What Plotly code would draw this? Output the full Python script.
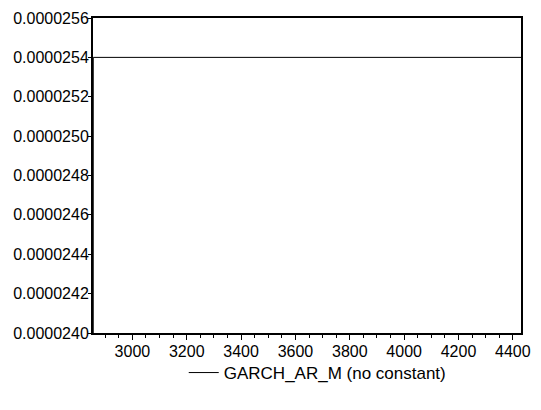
import plotly.graph_objects as go

# data
obs = [2855, 2856, 4430]
garch_ar_m = [0.0, 0.0000254, 0.0000254]
series_name = "GARCH_AR_M (no constant)"
y_ticks = [0.0000240, 0.0000242, 0.0000244, 0.0000246, 0.0000248,
           0.0000250, 0.0000252, 0.0000254, 0.0000256]
x_ticks = [3000, 3200, 3400, 3600, 3800, 4000, 4200, 4400]

fig = go.Figure()
fig.add_trace(go.Scatter(x=obs, y=garch_ar_m, mode="lines", name=series_name,
                         line=dict(color="black", width=1), showlegend=True))

font = dict(family="Liberation Sans, Arial, sans-serif", size=16, color="black")

fig.update_layout(
    width=541, height=410,
    margin=dict(l=93, r=16, t=10, b=77),
    paper_bgcolor="white", plot_bgcolor="white",
    font=font,
    showlegend=True,
    legend=dict(orientation="h", x=0.212, xanchor="left", y=-0.127, yanchor="middle",
                font=dict(family="Liberation Sans, Arial, sans-serif", size=17, color="black"),
                bgcolor="rgba(0,0,0,0)"),
    xaxis=dict(range=[2855, 4430], tickvals=x_ticks, ticktext=[str(v) for v in x_ticks],
               ticks="outside", ticklen=5, tickwidth=1, tickcolor="black",
               ticklabelstandoff=-2,
               minor=dict(dtick=50, tick0=0, ticks="outside", ticklen=3, tickcolor="black", showgrid=False),
               showline=True, linecolor="black", linewidth=2, mirror=True,
               showgrid=False, zeroline=False),
    yaxis=dict(range=[0.0000240, 0.0000256], tickvals=y_ticks, tickformat=".7f",
               ticks="outside", ticklen=3, tickwidth=1, tickcolor="black",
               ticklabelstandoff=-4,
               showline=True, linecolor="black", linewidth=2, mirror=True,
               showgrid=False, zeroline=False),
)

fig.write_html("out.html")
